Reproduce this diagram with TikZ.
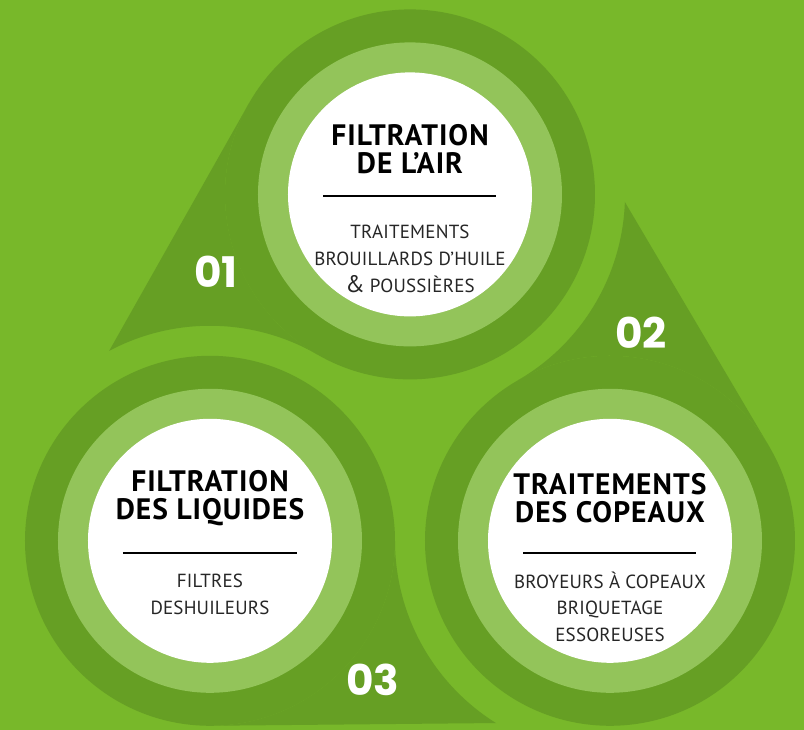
\documentclass[tikz,border=0pt]{standalone}
\usepackage{fontspec}
\setmainfont{PT Sans}
\newfontfamily\numfont{Poppins}
\usetikzlibrary{calc}

\definecolor{bggreen}{HTML}{78B82A}
\definecolor{ringdark}{HTML}{669F24}
\definecolor{ringlight}{HTML}{93C45A}

\tikzset{
	heading/.style = {font = \bfseries\fontsize{21}{20}\selectfont\addfontfeature{LetterSpace = 3.5}, align = center, inner sep = 0pt},
	body/.style = {font = \fontsize{13.5}{19}\selectfont\addfontfeature{LetterSpace = 1}, align = center, text = black!85, inner sep = 0pt},
	number/.style = {font = \numfont\bfseries\fontsize{30}{30}\selectfont, text = white, inner sep = 0pt},
	rule/.style = {line width = 1.8pt, black}
}

\begin{document}
\begin{tikzpicture}[x = 0.025cm, y = 0.025cm]
	\fill[bggreen] (-410, -304.7) rectangle (394, 425.3);
	\useasboundingbox (-410, -304.7) rectangle (394, 425.3);

	\coordinate (c1) at (0, 230.9);
	\coordinate (c2) at (200, -115.5);
	\coordinate (c3) at (-200, -115.5);

	\fill[ringdark] (-300.9, 74.3) -- (-161.1, 321.9) arc[start angle = 150.55, end angle = 240, radius = 185] arc[start angle = 60, end angle = 118, radius = 215] -- cycle;
	\fill[ringdark, rotate = -120] (-300.9, 74.3) -- (-161.1, 321.9) arc[start angle = 150.55, end angle = 240, radius = 185] arc[start angle = 60, end angle = 118, radius = 215] -- cycle;
	\fill[ringdark, rotate = 120] (-300.9, 74.3) -- (-161.1, 321.9) arc[start angle = 150.55, end angle = 240, radius = 185] arc[start angle = 60, end angle = 118, radius = 215] -- cycle;

	\fill[ringdark] (c1) circle[radius = 185] (c2) circle[radius = 185] (c3) circle[radius = 185];
	\fill[ringlight] (c1) circle[radius = 152] (c2) circle[radius = 152] (c3) circle[radius = 152];
	\fill[white] (c1) circle[radius = 122] (c2) circle[radius = 122] (c3) circle[radius = 122];

	\node[heading] (air) at ($(c1) + (0, 45)$) {FILTRATION\\DE L’AIR};
	\draw[rule] ($(c1) + (-86.5, -1.6)$) -- ++(173, 0);
	\node[body] (airtext) at ($(c1) + (0, -64.5)$) {TRAITEMENTS\\BROUILLARDS D’HUILE\\{\fontsize{17}{19}\selectfont\&} POUSSIÈRES};

	\node[heading] (copeaux) at ($(c2) + (0, 42.5)$) {TRAITEMENTS\\DES COPEAUX};
	\draw[rule] ($(c2) + (-86.5, -12)$) -- ++(173, 0);
	\node[body] (copeauxtext) at ($(c2) + (0, -66)$) {BROYEURS À COPEAUX\\BRIQUETAGE\\ESSOREUSES};

	\node[heading] (liquides) at ($(c3) + (0, 43)$) {FILTRATION\\DES LIQUIDES};
	\draw[rule] ($(c3) + (-87, -12)$) -- ++(174, 0);
	\node[body] (liquidestext) at ($(c3) + (0, -53.5)$) {FILTRES\\DESHUILEURS};

	\node[number] (n1) at (-194, 153.3) {01};
	\node[number] (n2) at (231, 92.3) {02};
	\node[number] (n3) at (-37, -254.7) {03};
\end{tikzpicture}
\end{document}
